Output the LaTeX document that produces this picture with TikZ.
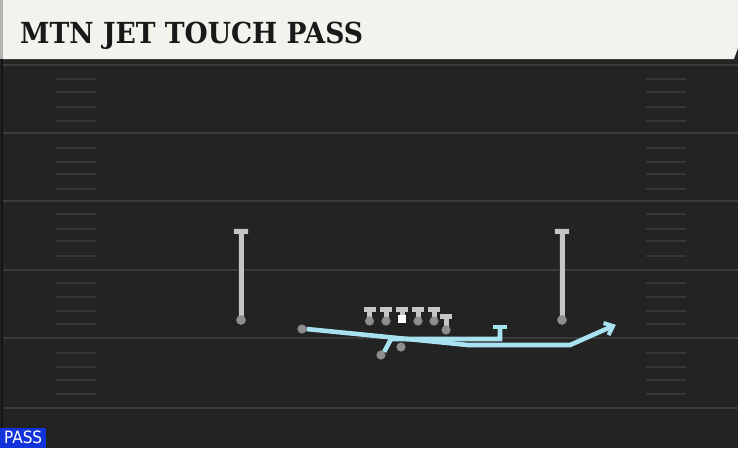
\documentclass[tikz,border=0pt]{standalone}
\usepackage{fontspec}
\usepackage{graphicx}
\setmainfont{DejaVu Serif}
\newfontfamily\titlefont{DejaVu Serif}
\newfontfamily\tagfont{DejaVu Sans Condensed}
\usetikzlibrary{arrows.meta}
\definecolor{fieldbg}{HTML}{232323}
\definecolor{yardline}{HTML}{3A3A3A}
\definecolor{hashcol}{HTML}{363636}
\definecolor{cream}{HTML}{F4F2EC}
\definecolor{routeblue}{HTML}{A8E2F0}
\definecolor{playerlight}{HTML}{C6C6C6}
\definecolor{playerdot}{HTML}{8E8E8E}
\definecolor{tagblue}{HTML}{1233DC}
\tikzset{
  yard/.style={draw=yardline, line width=2pt},
  hashmark/.style={draw=hashcol, line width=1.8pt},
  pdot/.style={circle, fill=playerdot, draw=playerlight!70!black, line width=0.6pt, minimum size=8.5pt, inner sep=0pt},
  stem/.style={draw=playerlight, line width=5pt},
  stemedge/.style={draw=black!80, line width=6.5pt},
  route/.style={draw=routeblue, line width=4.6pt, line join=miter},
}
\begin{document}
\begin{tikzpicture}[x=1pt,y=-1pt]
\useasboundingbox (0,0) rectangle (738,448);
% field
\fill[fieldbg] (0,0) rectangle (738,448);
\fill[black!85] (0,59) rectangle (738,63);
\draw[yardline!120, line width=2pt] (2,59) -- (2,448);
\foreach \y in {65,133,201,270,338,408} \draw[yard] (3,\y) -- (738,\y);
\foreach \y in {79,92,107,121,148,162,174,189,214,229,241,256,283,297,311,324,353,367,380,394}{
  \draw[hashmark] (56,\y) -- (96,\y);
  \draw[hashmark] (646,\y) -- (686,\y);
}
% header
\fill[gray!60] (0,0) rectangle (3,59);
\fill[cream] (3,0) -- (738,0) -- (738,48) -- (734,59) -- (3,59) -- cycle;
\node[anchor=base west, inner sep=0pt, text=black!90] (title) at (20,43)
  {\resizebox{343pt}{21.5pt}{\titlefont\bfseries MTN JET TOUCH PASS}};
% tag
\node[fill=tagblue, anchor=south west, minimum width=46pt, minimum height=20pt, inner sep=0pt, text=white] (tag) at (0,448)
  {\tagfont\fontsize{17}{17}\selectfont PASS};
% receivers
\foreach \n/\x in {wrl/241, wrr/562}{
  \coordinate (\n top) at (\x,231);
  \draw[stemedge] (\x,231) -- (\x,320);
  \draw[stemedge, line cap=butt] (\x-8,231) -- (\x+8,231);
  \draw[stem] (\x,232) -- (\x,320);
  \draw[stem, line cap=butt] (\x-7,231) -- (\x+7,231);
  \node[pdot, minimum size=9pt] (\n) at (\x,320) {};
}
% linemen
\foreach \n/\x in {lt/369.5, lg/386, rg/418, rt/434}{
  \draw[stem] (\x,310) -- (\x,320);
  \draw[stem, line cap=butt] (\x-6,309.5) -- (\x+6,309.5);
  \node[pdot] (\n) at (\x,321) {};
}
\draw[stem] (402,310) -- (402,316);
\draw[stem, line cap=butt] (396,309.5) -- (408,309.5);
\node[fill=white, minimum size=8pt, inner sep=0pt] (c) at (402,319) {};
\draw[stem] (446,317) -- (446,329);
\draw[stem, line cap=butt] (440,316.5) -- (452,316.5);
\node[pdot] (te) at (446,330) {};
% backs
\node[pdot] (qb) at (401,347) {};
\node[pdot] (rb) at (381,355) {};
\node[pdot] (jet) at (302,329) {};
% routes
\coordinate (rbjoin) at (391,339);
\coordinate (blk) at (500,339);
\coordinate (blktop) at (500,327);
\coordinate (jet1) at (468,345);
\coordinate (jet2) at (570,345);
\coordinate (jettip) at (613,326);
\coordinate (barbA) at (603.5,323);
\coordinate (barbB) at (608.5,335);
\draw[route] (rb.north east) -- (rbjoin) -- (blk) -- (blktop);
\draw[route, line cap=butt] (493,327) -- (507,327);
\draw[route] (jet.east) -- (jet1) -- (jet2) -- (jettip);
\draw[route, line width=4pt, line join=miter] (barbA) -- (jettip) -- (barbB);
\end{tikzpicture}
\end{document}
